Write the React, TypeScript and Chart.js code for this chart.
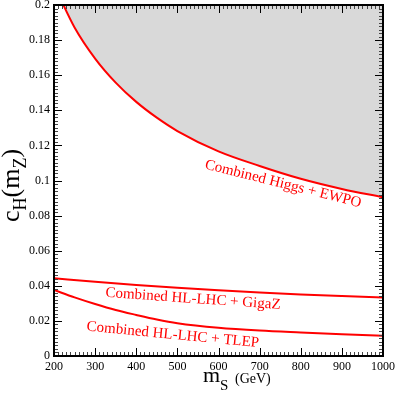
import React, { useEffect, useRef } from 'react';
import { Chart, registerables } from 'chart.js';

Chart.register(...registerables);

// ---- data ----
const massGeV = [200, 250, 300, 350, 400, 450, 500, 600, 700, 800, 900, 1000];
const higgsEwpo = [0.2115, 0.1872, 0.1695, 0.1558, 0.1448, 0.1358, 0.1282, 0.1166, 0.1083, 0.101, 0.0952, 0.0904];
const massGigaZ = [200, 300, 400, 500, 600, 700, 800, 900, 1000];
const hlLhcGigaZ = [0.0443, 0.0423, 0.0405, 0.0389, 0.0375, 0.0362, 0.0351, 0.0342, 0.0334];
const hlLhcTlep = [0.0376, 0.0334, 0.0296, 0.0262, 0.0234, 0.0208, 0.0187, 0.0161, 0.0145, 0.0134, 0.0124, 0.0116];
const xTickValues = [200, 300, 400, 500, 600, 700, 800, 900, 1000];
const yTickValues = [0, 0.02, 0.04, 0.06, 0.08, 0.1, 0.12, 0.14, 0.16, 0.18, 0.2];
const curveLabels = ['Combined Higgs + EWPO', 'Combined HL-LHC + GigaZ', 'Combined HL-LHC + TLEP'];

// label placement (data coordinates) and rotation in degrees
const labelPlacement = [
  { m: 757, c: 0.098, angle: 14 },
  { m: 538, c: 0.0325, angle: 4 },
  { m: 489, c: 0.012, angle: 5.5 },
];

const SERIF = '"Liberation Serif", "DejaVu Serif", serif';
const RED = '#ff0000';

const toPts = (xs: number[], ys: number[]) => xs.map((x, i) => ({ x, y: ys[i] }));

const decorPlugin = {
  id: 'decor',
  afterDraw(chart: any) {
    const ctx = chart.ctx as CanvasRenderingContext2D;
    const { left, right, top, bottom } = chart.chartArea;
    const xs = chart.scales.x;
    const ys = chart.scales.y;
    ctx.save();

    // minor & major ticks, on all four sides, pointing inward
    const xMin = xTickValues[0];
    const xMax = xTickValues[xTickValues.length - 1];
    for (let v = xMin; v <= xMax + 0.001; v += 10) {
      const major = Math.abs(v % 100) < 0.001;
      const len = major ? 8 : 4;
      ctx.strokeStyle = major ? '#000' : '#444';
      ctx.lineWidth = 1;
      const px = Math.round(xs.getPixelForValue(v)) + 0.5;
      ctx.beginPath();
      ctx.moveTo(px, bottom);
      ctx.lineTo(px, bottom - len);
      ctx.moveTo(px, top);
      ctx.lineTo(px, top + len);
      ctx.stroke();
    }
    const yMax = yTickValues[yTickValues.length - 1];
    for (let i = 0; i <= Math.round(yMax / 0.002); i++) {
      const v = i * 0.002;
      const major = i % 10 === 0;
      const len = major ? 8 : 4;
      ctx.strokeStyle = major ? '#000' : '#444';
      ctx.lineWidth = 1;
      const py = Math.round(ys.getPixelForValue(v)) + 0.5;
      ctx.beginPath();
      ctx.moveTo(left, py);
      ctx.lineTo(left + len, py);
      ctx.moveTo(right, py);
      ctx.lineTo(right - len, py);
      ctx.stroke();
    }

    // frame
    ctx.strokeStyle = '#000';
    ctx.lineWidth = 2;
    ctx.strokeRect(left, top, right - left, bottom - top);

    // curve labels
    ctx.fillStyle = RED;
    ctx.font = `15px ${SERIF}`;
    ctx.textAlign = 'center';
    ctx.textBaseline = 'middle';
    curveLabels.forEach((t, i) => {
      const p = labelPlacement[i];
      ctx.save();
      ctx.translate(xs.getPixelForValue(p.m), ys.getPixelForValue(p.c));
      ctx.rotate((p.angle * Math.PI) / 180);
      ctx.fillText(t, 0, 0);
      ctx.restore();
    });

    // axis titles
    ctx.fillStyle = '#000';
    ctx.textAlign = 'left';
    ctx.textBaseline = 'alphabetic';
    const drawSegs = (segs: { t: string; size: number; dy: number }[], x0: number, y0: number) => {
      let x = x0;
      segs.forEach((s) => {
        ctx.font = `${s.size}px ${SERIF}`;
        ctx.fillText(s.t, x, y0 + s.dy);
        x += ctx.measureText(s.t).width;
      });
    };
    // y title rotated
    ctx.save();
    ctx.translate(19, 222);
    ctx.rotate(-Math.PI / 2);
    drawSegs(
      [
        { t: 'c', size: 26, dy: 0 },
        { t: 'H', size: 18, dy: 7 },
        { t: '(', size: 26, dy: 0 },
        { t: 'm', size: 26, dy: 0 },
        { t: 'Z', size: 18, dy: 7 },
        { t: ')', size: 26, dy: 0 },
      ],
      0,
      0
    );
    ctx.restore();
    // x title
    drawSegs(
      [
        { t: 'm', size: 22, dy: 0 },
        { t: 'S', size: 15, dy: 8 },
      ],
      203,
      382
    );
    ctx.font = `14px ${SERIF}`;
    ctx.fillText('(GeV)', 235, 383);

    ctx.restore();
  },
};

export default function App() {
  const ref = useRef<HTMLCanvasElement | null>(null);
  useEffect(() => {
    if (!ref.current) return;
    const common = { borderColor: RED, borderWidth: 2, pointRadius: 0, cubicInterpolationMode: 'monotone' };
    const chart = new Chart(ref.current, {
      type: 'line',
      data: {
        datasets: [
          {
            ...common,
            label: curveLabels[0],
            data: toPts(massGeV, higgsEwpo),
            backgroundColor: 'rgb(217,217,217)',
            fill: 'end',
          },
          { ...common, label: curveLabels[1], data: toPts(massGigaZ, hlLhcGigaZ), fill: false },
          { ...common, label: curveLabels[2], data: toPts(massGeV, hlLhcTlep), fill: false },
        ],
      },
      options: {
        responsive: false,
        animation: false,
        events: [],
        layout: { padding: { top: 5, right: 13, left: 0, bottom: 0 } },
        plugins: { legend: { display: false }, tooltip: { enabled: false }, title: { display: false } },
        scales: {
          x: {
            type: 'linear',
            min: xTickValues[0],
            max: xTickValues[xTickValues.length - 1],
            afterBuildTicks: (s: any) => {
              s.ticks = xTickValues.map((v) => ({ value: v }));
            },
            afterFit: (s: any) => {
              s.height = 38;
              s.paddingLeft = 0;
              s.paddingRight = 0;
            },
            grid: { display: false, drawTicks: false },
            border: { display: false },
            ticks: {
              padding: 4,
              maxRotation: 0,
              autoSkip: false,
              color: '#000',
              font: { family: SERIF, size: 12 },
              callback: (v: any) => String(v),
            },
          },
          y: {
            type: 'linear',
            min: 0,
            max: yTickValues[yTickValues.length - 1],
            afterBuildTicks: (s: any) => {
              s.ticks = yTickValues.map((v) => ({ value: v }));
            },
            afterFit: (s: any) => {
              s.width = 54;
              s.paddingTop = 0;
              s.paddingBottom = 0;
            },
            grid: { display: false, drawTicks: false },
            border: { display: false },
            ticks: {
              padding: 4,
              autoSkip: false,
              color: '#000',
              font: { family: SERIF, size: 12 },
              callback: (v: any) => String(parseFloat(Number(v).toFixed(3))),
            },
          },
        },
      },
      plugins: [decorPlugin],
    } as any);
    return () => chart.destroy();
  }, []);
  return (
    <div style={{ position: 'absolute', left: 0, top: 0, width: 396, height: 394, background: '#fff' }}>
      <canvas ref={ref} width={396} height={394} style={{ display: 'block' }} />
    </div>
  );
}
